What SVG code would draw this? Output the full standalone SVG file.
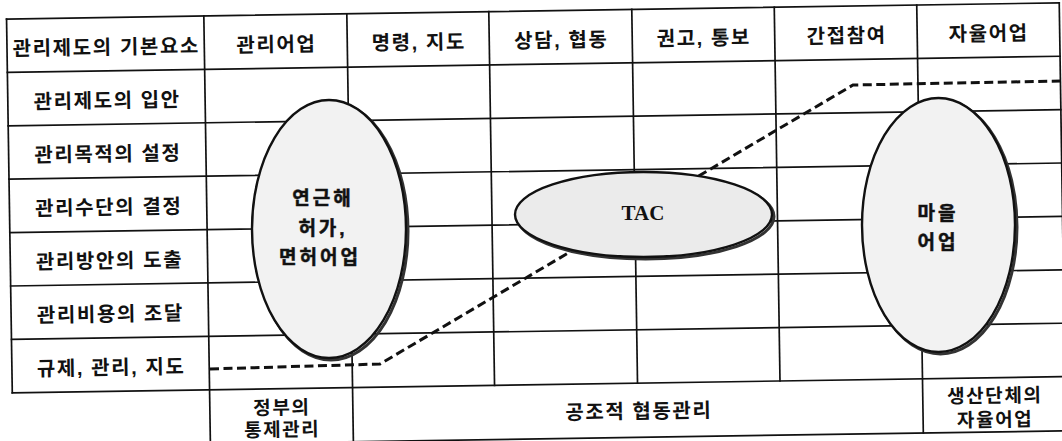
<svg xmlns="http://www.w3.org/2000/svg" width="1062" height="441" viewBox="0 0 1062 441">
<style>
.bg{fill:#ffffff}
.grid line{stroke:#111;stroke-width:1.7;stroke-linecap:square}
.t{font-family:'Liberation Sans','Noto Sans CJK KR',sans-serif;font-size:20px;font-weight:600;letter-spacing:1.6px;text-anchor:middle;dominant-baseline:central;fill:#111}
.s{font-size:19px}
.et{font-family:'Liberation Sans','Noto Sans CJK KR',sans-serif;font-size:19px;font-weight:700;letter-spacing:3px;text-anchor:middle;dominant-baseline:central;fill:#111;stroke:#111;stroke-width:0.5}
.tac{font-family:'Liberation Serif',serif;font-size:21px;font-weight:700;text-anchor:middle;dominant-baseline:central;fill:#111}
.shadow{fill:none;stroke:#333;stroke-width:3}
.ell{fill:#f2f2f2;stroke:#111;stroke-width:2.4}
.ell.tacfill{fill:#ebebeb}
.dash{fill:none;stroke:#111;stroke-width:3;stroke-dasharray:9 4.5}
</style>
<rect class="bg" x="0" y="0" width="1062" height="441"/>
<g id="table" transform="rotate(-0.88 530 220)">
  <g class="grid">
    <line x1="9.7" y1="11" x2="1062.5" y2="11"/>
    <line x1="9.7" y1="64.4" x2="1062.5" y2="64.4"/>
    <line x1="9.7" y1="117.8" x2="1062.5" y2="117.8"/>
    <line x1="9.7" y1="171.2" x2="1062.5" y2="171.2"/>
    <line x1="9.7" y1="224.6" x2="1062.5" y2="224.6"/>
    <line x1="9.7" y1="278" x2="1062.5" y2="278"/>
    <line x1="9.7" y1="331.4" x2="1062.5" y2="331.4"/>
    <line x1="9.7" y1="384.8" x2="1062.5" y2="384.8"/>
    <line x1="207" y1="439" x2="1062.5" y2="439"/>
    <line x1="9.7" y1="11" x2="9.7" y2="384.8"/>
    <line x1="207" y1="11" x2="207" y2="439"/>
    <line x1="350" y1="11" x2="350" y2="439"/>
    <line x1="492" y1="11" x2="492" y2="384.8"/>
    <line x1="635" y1="11" x2="635" y2="384.8"/>
    <line x1="777.5" y1="11" x2="777.5" y2="384.8"/>
    <line x1="920" y1="11" x2="920" y2="439"/>
    <line x1="1062.5" y1="11" x2="1062.5" y2="439"/>
  </g>
  <g id="header">
    <text class="t" x="109" y="40.7">관리제도의 기본요소</text>
    <text class="t" x="279" y="40.7">관리어업</text>
    <text class="t" x="421.5" y="40.7">명령, 지도</text>
    <text class="t" x="564" y="40.7">상담, 협동</text>
    <text class="t" x="706.5" y="40.7">권고, 통보</text>
    <text class="t" x="849.5" y="40.7">간접참여</text>
    <text class="t" x="991.5" y="40.7">자율어업</text>
  </g>
  <g id="rows">
    <text class="t" x="109" y="94.1">관리제도의 입안</text>
    <text class="t" x="109" y="147.5">관리목적의 설정</text>
    <text class="t" x="109" y="200.9">관리수단의 결정</text>
    <text class="t" x="109" y="254.3">관리방안의 도출</text>
    <text class="t" x="109" y="307.7">관리비용의 조달</text>
    <text class="t" x="109" y="361.1">규제, 관리, 지도</text>
  </g>
  <g id="footer">
    <text class="t s" x="279" y="404">정부의</text>
    <text class="t s" x="279" y="426">통제관리</text>
    <text class="t" x="636" y="413">공조적 협동관리</text>
    <text class="t s" x="992" y="403">생산단체의</text>
    <text class="t s" x="992" y="427">자율어업</text>
  </g>
</g>
<g id="connectors">
  <polyline class="dash" points="210,369 380,364 853,85 1062,81"/>
</g>
<g id="node-license">
  <ellipse class="shadow" cx="331" cy="231" rx="77" ry="129"/>
  <ellipse class="ell" cx="329" cy="229" rx="77" ry="129"/>
  <text class="et" x="323" y="198">연근해</text>
  <text class="et" x="323" y="228">허가,</text>
  <text class="et" x="320" y="257">면허어업</text>
</g>
<g id="node-tac">
  <ellipse class="shadow" cx="645.5" cy="216.5" rx="128.5" ry="42.5"/>
  <ellipse class="ell tacfill" cx="643.5" cy="214.5" rx="128.5" ry="42.5"/>
  <text class="tac" x="643" y="213">TAC</text>
</g>
<g id="node-village">
  <ellipse class="shadow" cx="940.5" cy="227" rx="76.5" ry="127"/>
  <ellipse class="ell" cx="938.5" cy="225" rx="76.5" ry="127"/>
  <text class="et" x="938" y="213">마을</text>
  <text class="et" x="938" y="242">어업</text>
</g>
</svg>
